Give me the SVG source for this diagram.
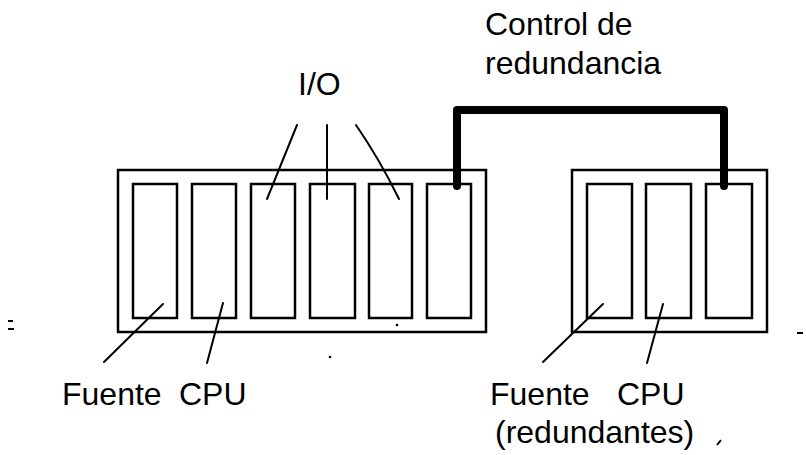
<svg xmlns="http://www.w3.org/2000/svg" width="806" height="455" viewBox="0 0 806 455">
<style>
.frame{fill:none;stroke:#000;stroke-width:2.5}
.slot{fill:none;stroke:#000;stroke-width:2.5}
.lead{fill:none;stroke:#000;stroke-width:2;stroke-linecap:round}
.bus{fill:none;stroke:#000;stroke-width:8;stroke-linecap:round;stroke-linejoin:round}
.lbl{font-family:"Liberation Sans",Arial,sans-serif;font-size:32px;fill:#000}
.spk{fill:none;stroke:#000;stroke-width:2}
</style>
<rect width="806" height="455" fill="#fff"/>
<g id="rack-main">
  <rect class="frame" x="118" y="170" width="368" height="162"/>
  <rect class="slot" x="133" y="184" width="44" height="134"/>
  <rect class="slot" x="192" y="184" width="44" height="134"/>
  <rect class="slot" x="251" y="184" width="44" height="134"/>
  <rect class="slot" x="310" y="184" width="45" height="134"/>
  <rect class="slot" x="369" y="184" width="43" height="134"/>
  <rect class="slot" x="427" y="184" width="44" height="134"/>
</g>
<g id="rack-redundant">
  <rect class="frame" x="572" y="170" width="195" height="162"/>
  <rect class="slot" x="587" y="184" width="45" height="134"/>
  <rect class="slot" x="646" y="184" width="45" height="134"/>
  <rect class="slot" x="706" y="184" width="46" height="134"/>
</g>
<g id="connectors">
  <path class="bus" d="M457,186 L457,110 L724,110 L724,186"/>
  <path class="lead" d="M297,125 L267,199"/>
  <path class="lead" d="M327,125 L327,199"/>
  <path class="lead" d="M356,125 Q380,160 399,199"/>
  <path class="lead" d="M163,304 L104,362"/>
  <path class="lead" d="M223,303 L207,363"/>
  <path class="lead" d="M603,304 L543,362"/>
  <path class="lead" d="M663,304 L647,363"/>
</g>
<g id="label-io"><text class="lbl" x="298" y="95">I/O</text></g>
<g id="label-control"><text class="lbl" x="485" y="35">Control de</text><text class="lbl" x="485" y="74">redundancia</text></g>
<g id="label-left"><text class="lbl" x="62" y="405">Fuente</text><text class="lbl" x="179" y="405">CPU</text></g>
<g id="label-right"><text class="lbl" x="490" y="405">Fuente</text><text class="lbl" x="617" y="405">CPU</text><text class="lbl" x="495" y="443">(redundantes)</text></g>
<g id="specks">
  <path class="spk" d="M8,321 H13 M8,329 H14 M797,333 H803 M717,445 L721,440"/>
  <circle cx="397" cy="325" r="1.3"/>
  <circle cx="330" cy="357" r="1.3"/>
</g>
</svg>
